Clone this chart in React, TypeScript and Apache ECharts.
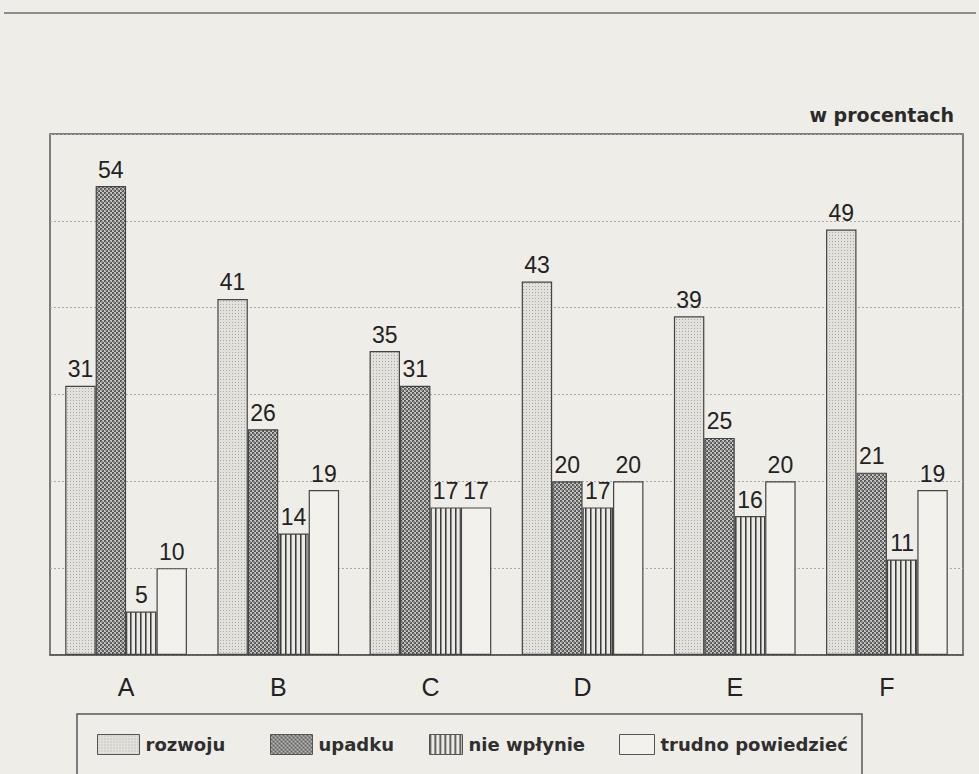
import React, { useEffect, useRef } from "react";
import * as echarts from "echarts";

const categories = ["A", "B", "C", "D", "E", "F"];
const rozwoju = [31, 41, 35, 43, 39, 49];
const upadku = [54, 26, 31, 20, 25, 21];
const nieWplynie = [5, 14, 17, 17, 16, 11];
const trudno = [10, 19, 17, 20, 20, 19];
const seriesNames = ["rozwoju", "upadku", "nie wpłynie", "trudno powiedzieć"];

const BG = "#efede7";

function makePattern(w: number, h: number, draw: (ctx: CanvasRenderingContext2D) => void) {
  const c = document.createElement("canvas");
  c.width = w;
  c.height = h;
  const ctx = c.getContext("2d")!;
  draw(ctx);
  return { image: c.toDataURL(), repeat: "repeat", imageWidth: w, imageHeight: h } as any;
}

export default function App() {
  const ref = useRef<HTMLDivElement>(null);
  useEffect(() => {
    if (!ref.current) return;
    const chart = echarts.init(ref.current, null, { renderer: "svg" });

    const dotPat = makePattern(3, 3, (ctx) => {
      ctx.fillStyle = "#e3e1db";
      ctx.fillRect(0, 0, 3, 3);
      ctx.fillStyle = "#a9a8a3";
      ctx.fillRect(1, 1, 1, 1);
    });
    const checkPat = makePattern(4, 4, (ctx) => {
      ctx.fillStyle = "#c6c6c2";
      ctx.fillRect(0, 0, 4, 4);
      ctx.fillStyle = "#555555";
      ctx.fillRect(0, 0, 2, 2);
      ctx.fillRect(2, 2, 2, 2);
      ctx.fillStyle = "#8a8a88";
      ctx.fillRect(1, 1, 2, 2);
    });
    const stripePat = makePattern(5, 2, (ctx) => {
      ctx.fillStyle = "#eceae4";
      ctx.fillRect(0, 0, 5, 2);
      ctx.fillStyle = "#3c3c3c";
      ctx.fillRect(0, 0, 1, 2);
      ctx.fillStyle = "#8a8a88";
      ctx.fillRect(1, 0, 1, 2);
    });
    const plainFill = "#f2f1ec";

    const fills = [dotPat, checkPat, stripePat, plainFill];
    const datas = [rozwoju, upadku, nieWplynie, trudno];

    const labelStyle = {
      show: true,
      position: "top" as const,
      distance: 5,
      fontSize: 23,
      color: "#222",
      fontFamily: "Liberation Sans, Arial, sans-serif",
    };

    const legendLefts = [97, 270, 429, 619];
    const legendWidths = [42, 42, 33, 35];

    const option: any = {
      animation: false,
      backgroundColor: BG,
      title: {
        text: "w procentach",
        right: 20,
        top: 100,
        textStyle: {
          fontSize: 19,
          fontWeight: "bold",
          color: "#2a2a2a",
          fontFamily: "DejaVu Sans, sans-serif",
        },
      },
      grid: {
        left: 50,
        right: 16,
        top: 134,
        bottom: 119,
        show: true,
        borderColor: "#555",
        borderWidth: 1.5,
        backgroundColor: "transparent",
      },
      legend: seriesNames.map((n, i) => ({
        left: legendLefts[i],
        top: 734,
        padding: 0,
        itemWidth: legendWidths[i],
        itemHeight: 20,
        itemGap: 9,
        icon: "rect",
        selectedMode: false,
        data: [n],
        itemStyle: { borderColor: "#555", borderWidth: 1 },
        textStyle: {
          fontSize: 18,
          fontWeight: "bold",
          color: "#2f2f2f",
          fontFamily: "DejaVu Sans, sans-serif",
          padding: [0, 0, 0, 1],
        },
      })),
      xAxis: {
        type: "category",
        data: categories,
        axisLine: { lineStyle: { color: "#555", width: 1.5 } },
        axisTick: { alignWithLabel: true, length: 12, lineStyle: { color: "#555", width: 1.2 } },
        axisLabel: {
          fontSize: 25,
          margin: 19,
          color: "#222",
          fontFamily: "Liberation Sans, Arial, sans-serif",
        },
      },
      yAxis: {
        type: "value",
        min: 0,
        max: 60,
        interval: 10,
        axisLabel: { show: false },
        axisLine: { show: false },
        axisTick: { show: false },
        splitLine: { lineStyle: { color: "#a8a8a4", type: [2, 2], width: 1 } },
      },
      graphic: [
        {
          type: "line",
          shape: { x1: 4, y1: 13, x2: 976, y2: 13 },
          style: { stroke: "#6d6d6a", lineWidth: 1.5 },
        },
        {
          type: "rect",
          shape: { x: 77, y: 714, width: 785, height: 80 },
          style: { fill: "none", stroke: "#555", lineWidth: 1.5 },
          z: -1,
        },
      ],
      series: seriesNames.map((n, i) => ({
        name: n,
        type: "bar",
        data: datas[i],
        barGap: "0%",
        barCategoryGap: "20%",
        itemStyle: { color: fills[i], borderColor: "#444", borderWidth: 1.2 },
        label: labelStyle,
      })),
    };
    chart.setOption(option);
    return () => chart.dispose();
  }, []);
  return (
    <div
      ref={ref}
      style={{ position: "fixed", left: 0, top: 0, width: 979, height: 774 }}
    />
  );
}
